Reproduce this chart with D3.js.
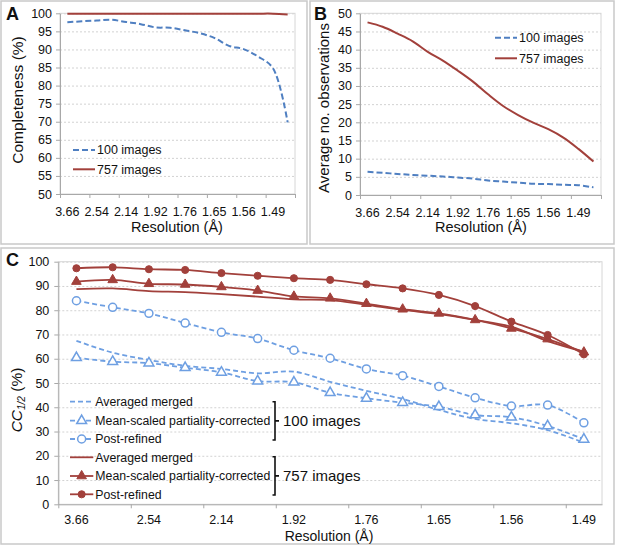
<!DOCTYPE html>
<html>
<head>
<meta charset="utf-8">
<script src="https://cdn.jsdelivr.net/npm/d3@7"></script>
<style>
body{margin:0;background:#fff}
svg text{font-family:"Liberation Sans",Arial,Helvetica,sans-serif;fill:#111}
</style>
</head>
<body>
<svg id="fig" width="617" height="549"></svg>
<script>
// resolution shells (A and B have 16 shells, C has 15)
var shellsAB = [1,2,3,4,5,6,7,8,9,10,11,12,13,14,15,16]
var shellsC = [1,2,3,4,5,6,7,8,9,10,11,12,13,14,15]
var resLabels = ["3.66","2.54","2.14","1.92","1.76","1.65","1.56","1.49"]

// A: completeness (%)
var complete100 = [97.5,97.8,98.0,98.2,97.6,97.0,96.1,96.0,95.3,94.5,93.2,91.0,90.1,88.0,84.8,69.8]
var complete757 = [99.9,99.9,99.9,99.9,99.9,99.9,99.9,99.9,99.9,99.9,99.9,99.9,99.9,99.9,99.9,99.7]
var ticksA = [50,55,60,65,70,75,80,85,90,95,100]

// B: average no. observations
var obs100 = [6.4,6.1,5.8,5.5,5.3,5.1,4.8,4.5,4.0,3.7,3.4,3.1,3.0,2.8,2.7,2.1]
var obs757 = [47.5,46.3,44.4,42.3,39.4,37.0,34.2,31.2,27.7,24.5,22.0,19.9,18.1,15.8,12.7,9.2]
var ticksB = [0,5,10,15,20,25,30,35,40,45,50]

// C: CC1/2 (%)
var cc100avg = [67.4,62.5,59.5,57.1,55.8,54.0,54.7,50.5,46.8,43.4,38.9,35.2,33.4,30.6,25.4]
var cc100ms = [60.4,58.8,58.2,56.3,54.4,50.8,50.3,46.0,43.7,41.9,40.2,36.8,35.9,32.3,26.8]
var cc100pr = [83.9,81.2,78.7,74.7,70.9,68.3,63.5,60.2,55.8,53.0,48.6,43.9,40.5,40.9,33.6]
var cc757avg = [88.7,89.0,87.9,87.5,86.6,85.6,84.5,84.2,82.2,80.1,78.4,76.0,73.2,67.3,62.9]
var cc757ms = [91.8,92.5,90.9,90.6,89.6,88.1,85.7,84.9,82.7,80.4,78.7,76.0,72.5,68.1,62.7]
var cc757pr = [97.3,97.7,96.9,96.6,95.3,94.2,93.2,92.5,90.7,89.0,86.3,81.7,75.3,69.8,61.8]
var ticksC = [0,10,20,30,40,50,60,70,80,90,100]

var seriesNames = ["Averaged merged","Mean-scaled partiality-corrected","Post-refined"]

var RED = "#a2403b"
var BLUE = "#4f7fc1"
var LBLUE = "#6e9fe2"

var svg = d3.select("#fig")

var panelBox = function(x,y,w,h,letter,lx,ly)
{
    svg.append("rect")
        .attr("x",x).attr("y",y).attr("width",w).attr("height",h)
        .attr("fill","none").attr("stroke","#c9c9c9").attr("stroke-width",1.5)
    svg.append("text")
        .text(letter)
        .attr("x",lx).attr("y",ly)
        .attr("font-size",18).attr("font-weight","bold")
}

// scales, grid, frame and axes for one plot area
var drawFrame = function(dim,cats,yDomain,yTicks,labelPad,yPad)
{
    var xScale = d3.scaleBand().domain(cats).range([dim.left,dim.right])
    var xEdge = d3.scaleLinear().domain([0,cats.length]).range([dim.left,dim.right])
    var yScale = d3.scaleLinear().domain(yDomain).range([dim.bottom,dim.top])

    var grid = svg.append("g")
        .attr("transform","translate("+dim.left+",0)")
        .call(d3.axisLeft(yScale).tickValues(yTicks.slice(1)).tickSize(-(dim.right-dim.left)).tickFormat(""))
    grid.select(".domain").remove()
    grid.selectAll("line").attr("stroke","#d2d2d2").attr("stroke-dasharray","2,2")

    svg.append("rect")
        .attr("x",dim.left).attr("y",dim.top)
        .attr("width",dim.right-dim.left).attr("height",dim.bottom-dim.top)
        .attr("fill","none").attr("stroke","#d6d6d6")

    var edgeTicks = []
    for (var i=0;i<=cats.length;i+=2) edgeTicks.push(i)
    var xa = svg.append("g")
        .attr("transform","translate(0,"+dim.bottom+")")
        .call(d3.axisBottom(xEdge).tickValues(edgeTicks).tickSize(4).tickSizeOuter(0).tickFormat(""))
    xa.selectAll("line,path").attr("stroke","#a8a8a8")

    var labelled = cats.filter(function(c,i){return i%2==0})
    var xl = svg.append("g")
        .attr("transform","translate(0,"+dim.bottom+")")
        .call(d3.axisBottom(xScale).tickValues(labelled).tickSize(0).tickPadding(labelPad)
            .tickFormat(function(c){return resLabels[cats.indexOf(c)/2]}))
    xl.select(".domain").remove()
    xl.selectAll("text").attr("font-size",12.5).attr("font-family",null)

    var ya = svg.append("g")
        .attr("transform","translate("+dim.left+",0)")
        .call(d3.axisLeft(yScale).tickValues(yTicks).tickSize(4).tickSizeOuter(0).tickPadding(yPad))
    ya.selectAll("line,path").attr("stroke","#a8a8a8")
    ya.selectAll("text").attr("font-size",12.5).attr("font-family",null)

    return {x:xScale,y:yScale}
}

var drawSeries = function(sc,cats,values,color,dash,width)
{
    var line = d3.line()
        .x(function(d,i){return sc.x(cats[i])+sc.x.bandwidth()/2})
        .y(function(d){return sc.y(d)})
        .curve(d3.curveCatmullRom.alpha(0.5))
    svg.append("path")
        .datum(values)
        .attr("d",line)
        .attr("fill","none")
        .attr("stroke",color)
        .attr("stroke-width",width)
        .attr("stroke-dasharray",dash)
}

var drawMarkers = function(sc,cats,values,kind,color,filled)
{
    var sym = kind=="circle" ? d3.symbol().type(d3.symbolCircle).size(filled?40:50)
                             : d3.symbol().type(d3.symbolTriangle).size(filled?40:42)
    svg.append("g").selectAll("path")
        .data(values)
        .enter()
        .append("path")
        .attr("d",sym)
        .attr("transform",function(d,i){
            return "translate("+(sc.x(cats[i])+sc.x.bandwidth()/2)+","+sc.y(d)+")"})
        .attr("fill",filled?color:"#fff")
        .attr("stroke",color)
        .attr("stroke-width",filled?1:1.5)
}

var legendRow = function(x0,x1,y,text,color,dash,width,marker,filled,fs)
{
    svg.append("line")
        .attr("x1",x0).attr("x2",x1).attr("y1",y).attr("y2",y)
        .attr("stroke",color).attr("stroke-width",width).attr("stroke-dasharray",dash)
    if (marker)
    {
        var sym = marker=="circle" ? d3.symbol().type(d3.symbolCircle).size(filled?40:50)
                                   : d3.symbol().type(d3.symbolTriangle).size(filled?40:42)
        svg.append("path")
            .attr("d",sym)
            .attr("transform","translate("+((x0+x1)/2)+","+y+")")
            .attr("fill",filled?color:"#fff")
            .attr("stroke",color).attr("stroke-width",filled?1:1.5)
    }
    svg.append("text")
        .text(text)
        .attr("x",x1+2).attr("y",y+4.3)
        .attr("font-size",fs)
}

var yTitle = function(x,y,text,fs)
{
    svg.append("text")
        .text(text)
        .attr("text-anchor","middle")
        .attr("transform","translate("+x+","+y+") rotate(-90)")
        .attr("font-size",fs)
}

var xTitle = function(x,y,text,fs)
{
    svg.append("text")
        .text(text)
        .attr("text-anchor","middle")
        .attr("x",x).attr("y",y)
        .attr("font-size",fs)
}

// ---------- panel A ----------
panelBox(1,1,306,243,"A",6,20)
var dimA = {left:60,right:295,top:13.3,bottom:194}
var scA = drawFrame(dimA,shellsAB,[50,100],ticksA,13.5,4)
drawSeries(scA,shellsAB,complete757,RED,null,2)
drawSeries(scA,shellsAB,complete100,BLUE,"6,3",2)
yTitle(22.5,100,"Completeness (%)",15.5)
xTitle(177,232,"Resolution (\u00c5)",14.5)
legendRow(73,95,150,"100 images",BLUE,"6,3",2,null,false,12.5)
legendRow(73,95,169.3,"757 images",RED,null,2,null,false,12.5)

// ---------- panel B ----------
panelBox(310,1,304,243,"B",314,20)
var dimB = {left:360,right:601,top:13.3,bottom:195}
var scB = drawFrame(dimB,shellsAB,[0,50],ticksB,13,4)
drawSeries(scB,shellsAB,obs757,RED,null,2)
drawSeries(scB,shellsAB,obs100,BLUE,"6,3",2)
yTitle(329,108,"Average no. observations",15)
xTitle(481,232,"Resolution (\u00c5)",14.5)
legendRow(495,517,37.7,"100 images",BLUE,"6,3",2,null,false,12.5)
legendRow(495,517,58.3,"757 images",RED,null,2,null,false,12.5)

// ---------- panel C ----------
panelBox(1,248,613,296,"C",6,266)
var dimC = {left:58.3,right:602,top:261.7,bottom:504.3}
var scC = drawFrame(dimC,shellsC,[0,100],ticksC,10.8,5)
drawSeries(scC,shellsC,cc100avg,LBLUE,"5,3",1.8)
drawSeries(scC,shellsC,cc100ms,LBLUE,"5,3",1.8)
drawSeries(scC,shellsC,cc100pr,LBLUE,"5,3",1.8)
drawMarkers(scC,shellsC,cc100ms,"triangle",LBLUE,false)
drawMarkers(scC,shellsC,cc100pr,"circle",LBLUE,false)
drawSeries(scC,shellsC,cc757avg,RED,null,1.8)
drawSeries(scC,shellsC,cc757ms,RED,null,1.8)
drawSeries(scC,shellsC,cc757pr,RED,null,1.8)
drawMarkers(scC,shellsC,cc757ms,"triangle",RED,true)
drawMarkers(scC,shellsC,cc757pr,"circle",RED,true)

var ccTitle = svg.append("text")
    .attr("text-anchor","middle")
    .attr("transform","translate(22,400) rotate(-90)")
    .attr("font-size",15.5)
ccTitle.append("tspan").attr("font-style","italic").text("CC")
ccTitle.append("tspan").attr("font-style","italic").attr("font-size",10).attr("dy",3).text("1/2")
ccTitle.append("tspan").attr("dy",-3).text(" (%)")
xTitle(329,541,"Resolution (\u00c5)",14)

var rowsY = [401.7,420.7,439,457.3,476,494.3]
var kinds = [null,"triangle","circle"]
seriesNames.forEach(function(n,i){
    legendRow(70,93.3,rowsY[i],n,LBLUE,"5,3",1.8,kinds[i],false,12.3)
    legendRow(70,93.3,rowsY[i+3],n,RED,null,1.8,kinds[i],true,12.3)
})

// brackets grouping the legend entries
var bracket = function(yTop,yBot,label)
{
    var mid = (yTop+yBot)/2
    svg.append("path")
        .attr("d","M272.5,"+yTop+"H275V"+yBot+"H272.5M275,"+mid+"H279")
        .attr("fill","none").attr("stroke","#111").attr("stroke-width",1.6)
    svg.append("text")
        .text(label)
        .attr("x",283).attr("y",mid+5.2)
        .attr("font-size",15)
}
bracket(rowsY[0],rowsY[2]+1,"100 images")
bracket(rowsY[3]-0.5,rowsY[5]+0.7,"757 images")
</script>
</body>
</html>
